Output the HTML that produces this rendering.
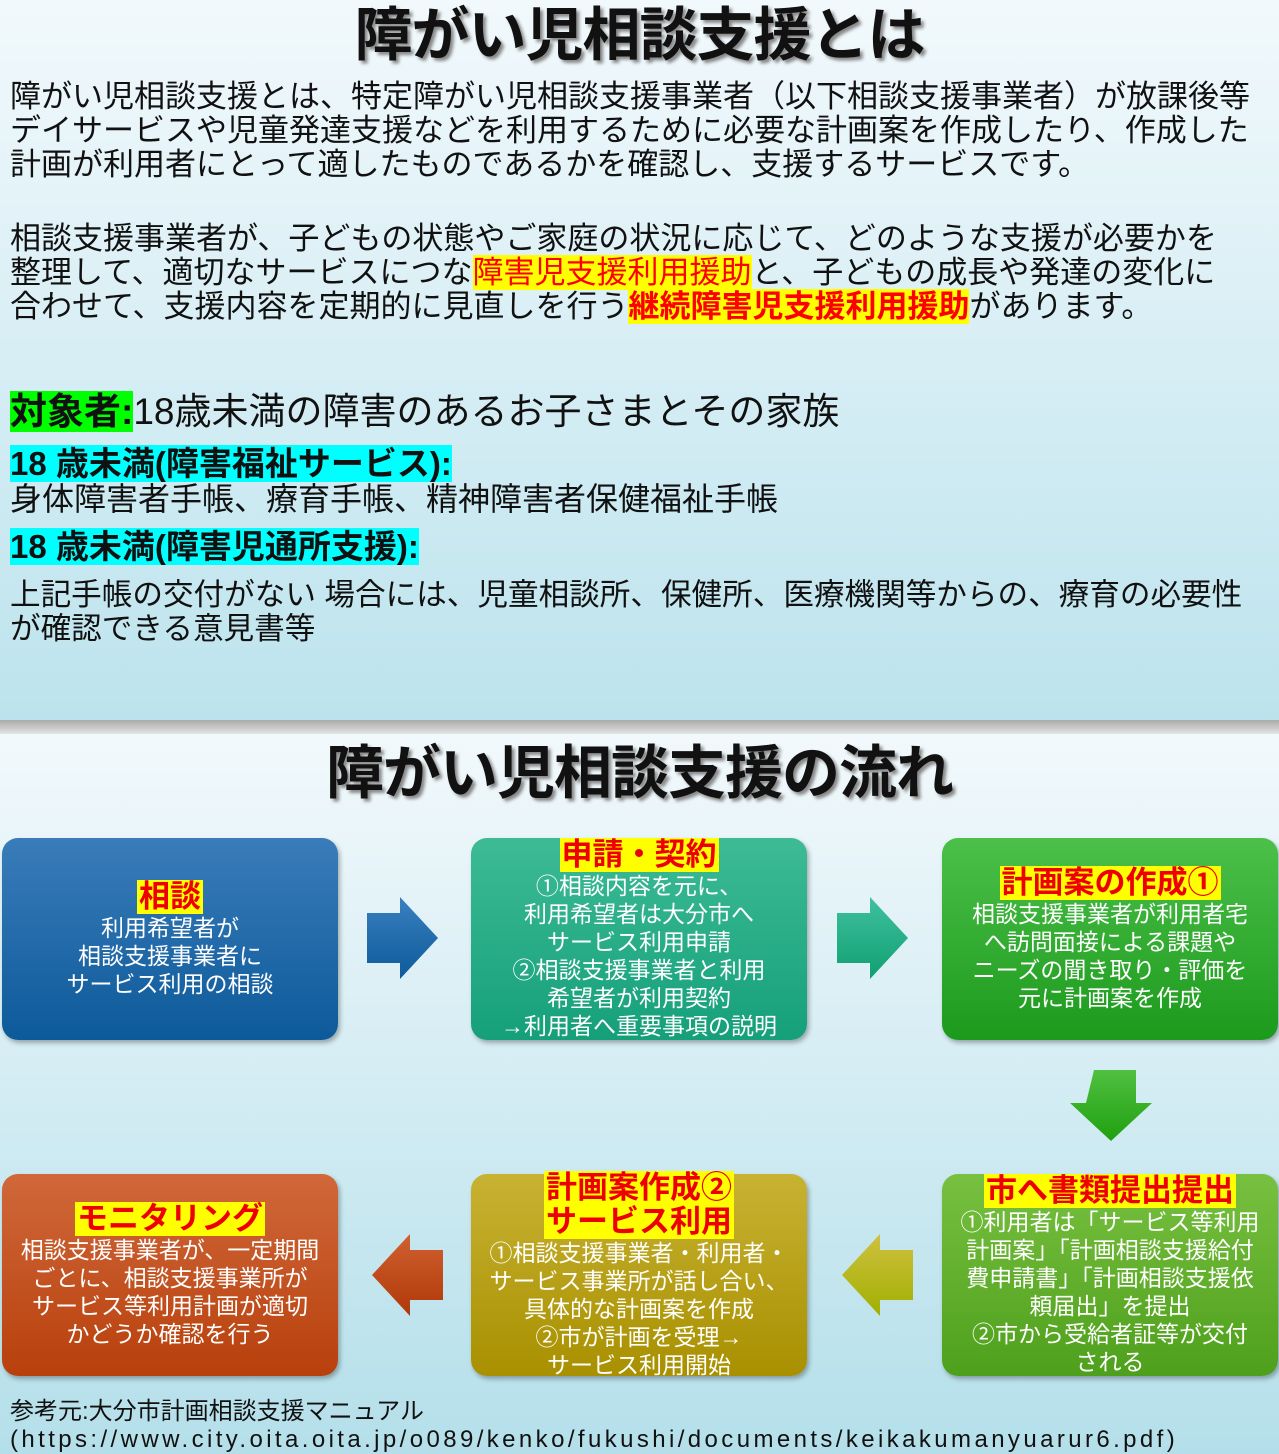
<!DOCTYPE html>
<html><head><meta charset="utf-8"><style>
*{margin:0;padding:0;box-sizing:border-box}
body{width:1279px;height:1454px;position:relative;overflow:hidden;font-family:"Liberation Sans","Noto Sans CJK JP",sans-serif;color:#111}
.s1{position:absolute;left:0;top:0;width:1279px;height:720px;background:linear-gradient(#f2f9fc,#bce3ed)}
.band{position:absolute;left:0;top:720px;width:1279px;height:14px;background:linear-gradient(#aaa,#e4e4e4)}
.s2{position:absolute;left:0;top:734px;width:1279px;height:720px;background:linear-gradient(#f2f9fc,#b4dfea)}
.t{position:absolute;white-space:nowrap}
h1{position:absolute;width:1279px;text-align:center;font-size:58px;font-weight:bold;text-shadow:3px 3px 3px #888;letter-spacing:-1px}
.p{font-size:31px;line-height:34px;left:10px}
.r{background:#ff0;color:#f00}
.g{background:#0f0}
.c{background:#0ff;font-weight:bold}
.box{position:absolute;width:336px;height:202px;border-radius:16px;color:#fff;text-align:center;font-size:23px;line-height:28px;display:flex;flex-direction:column;justify-content:center;align-items:center;box-shadow:2px 3px 5px rgba(0,0,0,.3)}
.box b{background:#ff0;color:#e00;font-size:31px;line-height:34px;padding:0 2px}
</style></head><body>
<div class="s1"></div><div class="band"></div><div class="s2"></div>
<h1 style="top:-12px">障がい児相談支援とは</h1>
<div class="t p" style="top:80px">障がい児相談支援とは、特定障がい児相談支援事業者（以下相談支援事業者）が放課後等<br>デイサービスや児童発達支援などを利用するために必要な計画案を作成したり、作成した<br>計画が利用者にとって適したものであるかを確認し、支援するサービスです。</div>
<div class="t p" style="top:222px">相談支援事業者が、子どもの状態やご家庭の状況に応じて、どのような支援が必要かを<br>整理して、適切なサービスにつな<span class="r">障害児支援利用援助</span>と、子どもの成長や発達の変化に<br>合わせて、支援内容を定期的に見直しを行う<span class="r" style="font-weight:bold">継続障害児支援利用援助</span>があります。</div>
<div class="t" style="left:10px;top:391px;font-size:37px;line-height:42px"><span class="g" style="font-weight:bold">対象者:</span>18歳未満の障害のあるお子さまとその家族</div>
<div class="t" style="left:10px;top:446px;font-size:33px;line-height:36px"><span class="c">18 歳未満(障害福祉サービス):</span></div>
<div class="t p" style="top:482px;font-size:32px">身体障害者手帳、療育手帳、精神障害者保健福祉手帳</div>
<div class="t" style="left:10px;top:529px;font-size:33px;line-height:36px"><span class="c">18 歳未満(障害児通所支援):</span></div>
<div class="t p" style="top:578px;font-size:30.6px">上記手帳の交付がない 場合には、児童相談所、保健所、医療機関等からの、療育の必要性<br>が確認できる意見書等</div>
<h1 style="top:726px">障がい児相談支援の流れ</h1>

<div class="box" style="left:2px;top:838px;background:linear-gradient(#3a7cba,#0d5a9a)"><b>相談</b>利用希望者が<br>相談支援事業者に<br>サービス利用の相談</div>
<div class="box" style="left:471px;top:838px;background:linear-gradient(#3dbb95,#15a07a)"><b>申請・契約</b>①相談内容を元に、<br>利用希望者は大分市へ<br>サービス利用申請<br>②相談支援事業者と利用<br>希望者が利用契約<br>→利用者へ重要事項の説明</div>
<div class="box" style="left:942px;top:838px;background:linear-gradient(#4cc04a,#1c9a1c)"><b>計画案の作成①</b>相談支援事業者が利用者宅<br>へ訪問面接による課題や<br>ニーズの聞き取り・評価を<br>元に計画案を作成</div>
<div class="box" style="left:2px;top:1174px;background:linear-gradient(#d0683a,#b8400c)"><b>モニタリング</b>相談支援事業者が、一定期間<br>ごとに、相談支援事業所が<br>サービス等利用計画が適切<br>かどうか確認を行う</div>
<div class="box" style="left:471px;top:1174px;background:linear-gradient(#c8b232,#a89000)"><b>計画案作成②<br>サービス利用</b>①相談支援事業者・利用者・<br>サービス事業所が話し合い、<br>具体的な計画案を作成<br>②市が計画を受理→<br>サービス利用開始</div>
<div class="box" style="left:942px;top:1174px;background:linear-gradient(#78c040,#4ea01c)"><b>市へ書類提出提出</b>①利用者は「サービス等利用<br>計画案」「計画相談支援給付<br>費申請書」「計画相談支援依<br>頼届出」を提出<br>②市から受給者証等が交付<br>される</div>

<svg width="1279" height="1454" style="position:absolute;left:0;top:0">
<defs>
<linearGradient id="a1" x1="0" y1="0" x2="0" y2="1"><stop offset="0" stop-color="#3a80c0"/><stop offset="1" stop-color="#0d5a9a"/></linearGradient>
<linearGradient id="a2" x1="0" y1="0" x2="0" y2="1"><stop offset="0" stop-color="#40c0a0"/><stop offset="1" stop-color="#10a070"/></linearGradient>
<linearGradient id="a3" x1="0" y1="0" x2="0" y2="1"><stop offset="0" stop-color="#50c040"/><stop offset="1" stop-color="#20a010"/></linearGradient>
<linearGradient id="a4" x1="0" y1="0" x2="0" y2="1"><stop offset="0" stop-color="#d0c040"/><stop offset="1" stop-color="#a0b000"/></linearGradient>
<linearGradient id="a5" x1="0" y1="0" x2="0" y2="1"><stop offset="0" stop-color="#d06030"/><stop offset="1" stop-color="#b03808"/></linearGradient>
</defs>
<polygon points="367,913 400,913 400,897 438,938 400,979 400,963 367,963" fill="url(#a1)"/>
<polygon points="837,913 870,913 870,897 908,938 870,979 870,963 837,963" fill="url(#a2)"/>
<polygon points="1094,1070 1136,1070 1136,1103 1152,1103 1111,1141 1070,1103 1086,1103" fill="url(#a3)"/>
<polygon points="913,1250 880,1250 880,1234 842,1275 880,1316 880,1300 913,1300" fill="url(#a4)"/>
<polygon points="443,1250 410,1250 410,1234 372,1275 410,1316 410,1300 443,1300" fill="url(#a5)"/>
</svg>
<div class="t" style="left:10px;top:1398px;font-size:24px;line-height:28px">参考元:大分市計画相談支援マニュアル<br><span style="letter-spacing:3.4px">(https://www.city.oita.oita.jp/o089/kenko/fukushi/documents/keikakumanyuarur6.pdf)</span></div>
</body></html>
